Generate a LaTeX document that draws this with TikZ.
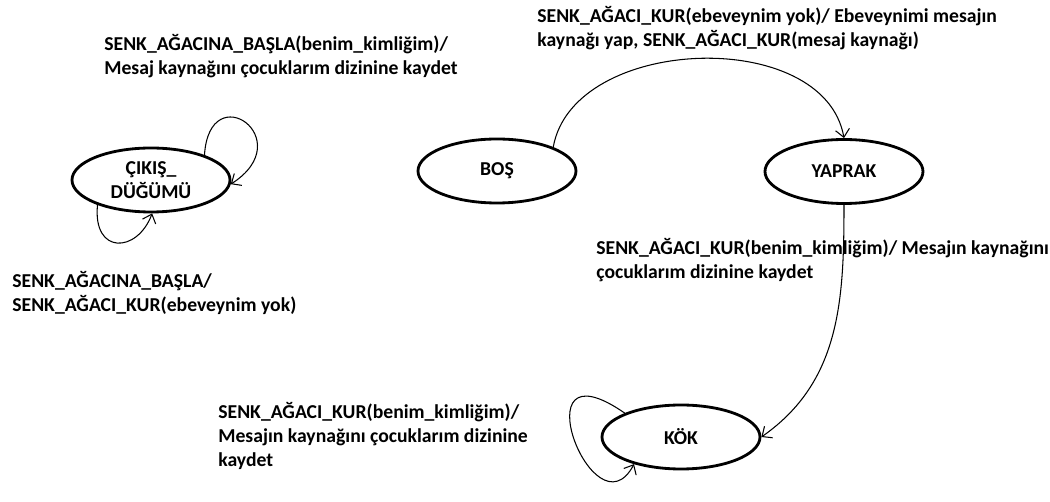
\documentclass[tikz,border=0pt]{standalone}
\usepackage{fontspec}
\setmainfont{Carlito}
\usetikzlibrary{shapes.geometric,arrows.meta}

\tikzset{
  stateoval/.style={draw,ellipse,line width=1.6pt,minimum width=3.16cm,minimum height=1.28cm,inner sep=0pt,align=center},
  trans/.style={line width=0.6pt,-{Straight Barb[length=4.5pt,width=8pt]}},
  lbl/.style={anchor=west,align=left,inner sep=0pt}
}

\begin{document}
\begin{tikzpicture}[font=\bfseries\fontsize{11.2}{13.6}\selectfont]
  \useasboundingbox (0,0) rectangle (21,10.04);
  \node[stateoval] (cikis) at (3.02,6.44) {ÇIKIŞ\_\\DÜĞÜMÜ};
  \node[stateoval] (bos) at (9.94,6.62) {BOŞ};
  \node[stateoval] (yaprak) at (16.88,6.61) {YAPRAK};
  \node[stateoval] (kok) at (13.62,1.30) {KÖK};

  \node[lbl] (lbltop) at (10.74,9.47) {SENK\_AĞACI\_KUR(ebeveynim yok)/ Ebeveynimi mesajın\\kaynağı yap, SENK\_AĞACI\_KUR(mesaj kaynağı)};
  \node[lbl] (lblcikisa) at (2.08,8.92) {SENK\_AĞACINA\_BAŞLA(benim\_kimliğim)/\\Mesaj kaynağını çocuklarım dizinine kaydet};
  \node[lbl] (lblcikisb) at (0.24,4.18) {SENK\_AĞACINA\_BAŞLA/\\SENK\_AĞACI\_KUR(ebeveynim yok)};
  \node[lbl] (lblyaprak) at (11.92,4.84) {SENK\_AĞACI\_KUR(benim\_kimliğim)/ Mesajın kaynağını\\çocuklarım dizinine kaydet};
  \node[lbl] (lblkok) at (4.36,1.32) {SENK\_AĞACI\_KUR(benim\_kimliğim)/\\Mesajın kaynağını çocuklarım dizinine\\kaydet};

  \draw[trans] (bos.23) to[out=80,in=100] (yaprak.north);
  \draw[trans] (yaprak.south) to[out=-90,in=35] (kok.east);
  \draw[trans] (kok.157) .. controls +(-2.16,1.5) and +(-0.8,-1.5) .. (kok.210);
  \draw[trans] (cikis.25) .. controls +(0.1,1.6) and +(1.4,0.9) .. (cikis.-3);
  \draw[trans] (cikis.205) .. controls +(-0.1,-1.0) and +(-0.3,-0.8) .. (cikis.-88);
\end{tikzpicture}
\end{document}
